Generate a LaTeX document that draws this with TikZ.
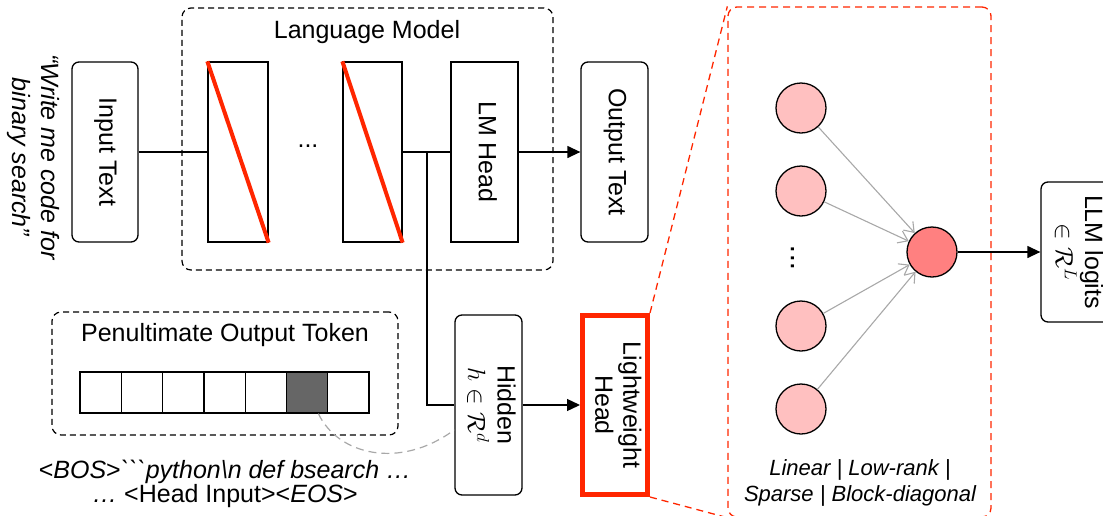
\documentclass[tikz,border=0pt]{standalone}
\usepackage{fontspec}
\setmainfont{Liberation Sans}
\newfontfamily\rawsans{Liberation Sans}
\usepackage{graphicx}
\usetikzlibrary{arrows.meta}
\definecolor{myred}{HTML}{FF2600}
\definecolor{lightpink}{HTML}{FFC0C0}
\definecolor{darkpink}{HTML}{FF8080}
\definecolor{cellgray}{HTML}{666666}
\definecolor{linegray}{HTML}{A8A8A8}
\newcommand{\myvert}[1]{\rotatebox{-90}{\begin{tabular}{@{}c@{}}#1\end{tabular}}}
\begin{document}
\begin{tikzpicture}[x=1pt,y=-1pt,
  every node/.style={font=\fontsize{25}{28}\selectfont, inner sep=0pt},
  ln/.style={line width=1.3pt, draw=black},
  rbox/.style={ln, rounded corners=7pt, fill=white},
  sbox/.style={ln, fill=white},
  dbox/.style={draw=black, line width=1.2pt, dash pattern=on 6pt off 4pt, rounded corners=9pt},
  rdash/.style={draw=myred, line width=1.3pt, dash pattern=on 7pt off 5pt},
  cell/.style={ln, minimum width=41.3pt, minimum height=41pt},
  neuron/.style={circle, ln, minimum size=50pt},
  arr/.style={ln, -{Triangle[length=13pt,width=12pt]}},
  garr/.style={draw=linegray, line width=1.1pt, -{Straight Barb[length=9pt,width=13pt]}},
  gdash/.style={draw=linegray, line width=1.2pt, dash pattern=on 8pt off 5pt}
]
\useasboundingbox (0,0) rectangle (1103,515);
\clip (0,0) rectangle (1103,515);

% Language model group
\node[dbox, minimum width=371pt, minimum height=262pt] (lm) at (367.5,139) {};
\node (lmtitle) at (367,32) {Language Model};

% quote
\node[font=\fontsize{25}{29}\selectfont\itshape] (quote) at (33,157) {\myvert{“Write me code for\\binary search”}};

% top row
\node[rbox, minimum width=66pt, minimum height=180pt] (input) at (105,152) {\myvert{Input Text}};
\node[sbox, minimum width=60pt, minimum height=180pt] (l1) at (238,152) {};
\node[sbox, minimum width=59pt, minimum height=180pt] (l2) at (372.5,152) {};
\node[anchor=base] (dots) at (308,147) {...};
\node[sbox, minimum width=67pt, minimum height=180pt] (lmh) at (484.5,152) {\myvert{LM Head}};
\node[rbox, minimum width=67pt, minimum height=180pt] (out) at (614.5,152) {\myvert{Output Text}};

\draw[myred, line width=4pt] (l1.north west) -- (l1.south east);
\draw[myred, line width=4pt] (l2.north west) -- (l2.south east);

\draw[ln] (input) -- (l1);
\draw[ln] (l2) -- (lmh);
\draw[arr] (lmh) -- (out);

% penultimate token
\node[dbox, minimum width=346pt, minimum height=123pt] (pen) at (225,373.5) {};
\node (pentitle) at (225,335) {Penultimate Output Token};
\foreach \i in {1,...,7} {
  \node[cell] (c\i) at ({80+41.3*(\i-0.5)},392.5) {};
}
\node[cell, fill=cellgray] at (c6) {};
\node[align=center, font=\fontsize{25}{23}\selectfont] (seq) at (225,484)
  {\textless\textit{BOS}\textgreater{\rawsans\itshape ```python\textbackslash n def bsearch …}\\
   \textit{…} \textless Head Input\textgreater\textless\textit{EOS}\textgreater};

% hidden and lightweight head
\node[rbox, minimum width=67pt, minimum height=180pt] (hidden) at (488.5,405) {\myvert{Hidden\\$h \in \mathcal{R}^d$}};
\node[draw=myred, line width=5pt, fill=white, minimum width=65pt, minimum height=179pt] (lw) at (615,405) {\myvert{Lightweight\\Head}};

\coordinate (br) at (427,152);
\draw[ln] (br) |- (hidden);
\draw[arr] (hidden) -- (lw);
\draw[gdash] (c6.-62) .. controls (338,455) and (400,470) .. (hidden.216.7);

% zoom box
\node[draw=myred, line width=1.3pt, dash pattern=on 7pt off 5pt, rounded corners=9pt,
      minimum width=263pt, minimum height=510pt] (zoom) at (859.5,262) {};
\draw[rdash] (lw.north east) -- (zoom.north west);
\draw[rdash] (lw.south east) -- (zoom.south west);

% neurons
\node[neuron, fill=lightpink] (n1) at (801,108) {};
\node[neuron, fill=lightpink] (n2) at (801,191) {};
\node[font=\fontsize{30}{30}\selectfont] (vd) at (793,258) {\rotatebox{90}{...}};
\node[neuron, fill=lightpink] (n3) at (801,326) {};
\node[neuron, fill=lightpink] (n4) at (801,409) {};
\node[neuron, fill=darkpink] (no) at (932,252) {};
\foreach \n in {n1,n2,n3,n4} { \draw[garr] (\n) -- (no); }

\node[align=center, font=\fontsize{22}{26}\selectfont\itshape] (types) at (860,483)
  {Linear | Low-rank |\\Sparse | Block-diagonal};

% logits
\node[rbox, minimum width=70pt, minimum height=140pt] (logits) at (1076,252) {\myvert{LLM logits\\$\in \mathcal{R}^L$}};
\draw[arr] (no) -- (logits);
\end{tikzpicture}
\end{document}
